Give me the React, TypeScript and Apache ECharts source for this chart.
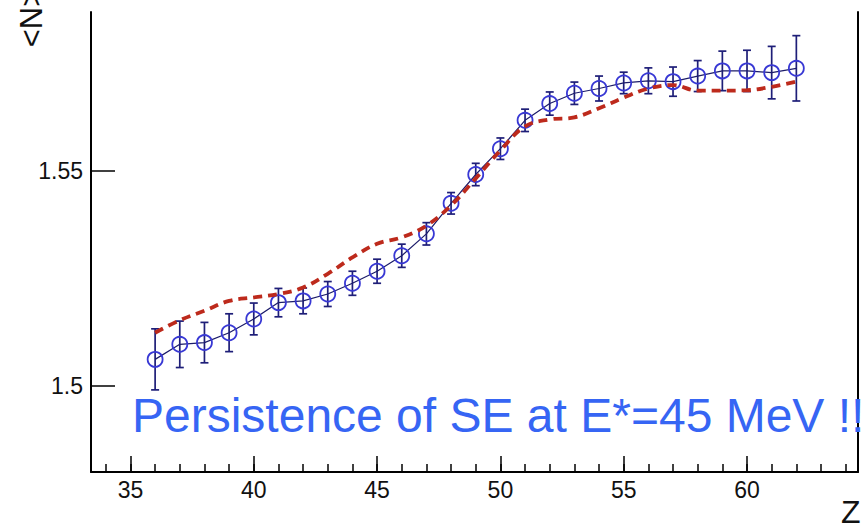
import React, { useEffect, useRef } from "react";
import * as echarts from "echarts";

// Charge number of the fragment
const Z = [36, 37, 38, 39, 40, 41, 42, 43, 44, 45, 46, 47, 48, 49, 50, 51, 52, 53, 54, 55, 56, 57, 58, 59, 60, 61, 62];

// Measured mean neutron-excess ratio <N>/Z with its uncertainty
const MEAN_N = [
  1.5062, 1.5097, 1.5101, 1.5124, 1.5156, 1.5194, 1.5198, 1.5214, 1.5239, 1.5267,
  1.5303, 1.5354, 1.5425, 1.5492, 1.5552, 1.5618, 1.5657, 1.5681, 1.5692, 1.5705,
  1.571, 1.5708, 1.5721, 1.5733, 1.5733, 1.5729, 1.5739,
];
const MEAN_N_ERR = [
  0.0071, 0.0054, 0.0047, 0.0044, 0.0037, 0.0033, 0.003, 0.0029, 0.0028, 0.0028,
  0.0027, 0.0026, 0.0025, 0.0026, 0.0025, 0.0026, 0.0027, 0.0026, 0.0029, 0.0025,
  0.003, 0.0034, 0.0036, 0.0046, 0.0048, 0.0061, 0.0076,
];

// Calculated curve
const MODEL_N = [
  1.5124, 1.5153, 1.5175, 1.5198, 1.5206, 1.5214, 1.5229, 1.5261, 1.5299, 1.5331,
  1.5346, 1.5373, 1.542, 1.5483, 1.5548, 1.5604, 1.562, 1.5625, 1.5646, 1.5671,
  1.5692, 1.57, 1.5687, 1.5687, 1.5688, 1.5696, 1.5708,
];

// Axis ticks
const Z_MAJOR = [35, 40, 45, 50, 55, 60];
const Z_MINOR = [34, 35, 36, 37, 38, 39, 40, 41, 42, 43, 44, 45, 46, 47, 48, 49, 50, 51, 52, 53, 54, 55, 56, 57, 58, 59, 60, 61, 62, 63, 64];
const N_MAJOR = [1.5, 1.55];

const Z_MIN = 33.4;
const Z_MAX = 64.5;
const N_MIN = 1.48;
const N_MAX = 1.587;

const FONT = "Liberation Sans, Arial, Helvetica, sans-serif";

export default function App() {
  const ref = useRef<HTMLDivElement>(null);

  useEffect(() => {
    if (!ref.current) return;
    const chart = echarts.init(ref.current, undefined, { renderer: "svg" });

    const points = Z.map((z, i) => [z, MEAN_N[i]]);
    const errs = Z.map((z, i) => [z, MEAN_N[i], MEAN_N_ERR[i]]);
    const model = Z.map((z, i) => [z, MODEL_N[i]]);

    const barColor = "#1e1e78";

    chart.setOption({
      animation: false,
      backgroundColor: "#ffffff",
      grid: {
        left: 91,
        right: 5,
        top: 12,
        bottom: 52,
        containLabel: false,
        outerBoundsMode: "none",
      },
      xAxis: [
        {
          type: "value",
          min: Z_MIN,
          max: Z_MAX,
          position: "bottom",
          axisLine: { show: true, lineStyle: { color: "#000", width: 2 } },
          axisTick: {
            show: true,
            inside: true,
            length: 16,
            customValues: Z_MAJOR,
            lineStyle: { color: "#000", width: 1.5 },
          },
          axisLabel: {
            show: true,
            customValues: Z_MAJOR,
            margin: 6,
            color: "#111",
            fontSize: 23,
            fontFamily: FONT,
          },
          splitLine: { show: false },
        },
        {
          type: "value",
          min: Z_MIN,
          max: Z_MAX,
          position: "bottom",
          axisLine: { show: false },
          axisTick: {
            show: true,
            inside: true,
            length: 8,
            customValues: Z_MINOR,
            lineStyle: { color: "#000", width: 1.5 },
          },
          axisLabel: { show: false },
          splitLine: { show: false },
        },
      ],
      yAxis: [
        {
          type: "value",
          min: N_MIN,
          max: N_MAX,
          position: "left",
          axisLine: { show: true, lineStyle: { color: "#000", width: 2 } },
          axisTick: {
            show: true,
            inside: true,
            length: 24,
            customValues: N_MAJOR,
            lineStyle: { color: "#000", width: 1.5 },
          },
          axisLabel: {
            show: true,
            customValues: N_MAJOR,
            margin: 8,
            color: "#111",
            fontSize: 23,
            fontFamily: FONT,
          },
          splitLine: { show: false },
        },
        {
          type: "value",
          min: N_MIN,
          max: N_MAX,
          position: "right",
          axisLine: { show: true, lineStyle: { color: "#000", width: 2 } },
          axisTick: { show: false },
          axisLabel: { show: false },
          splitLine: { show: false },
        },
      ],
      series: [
        {
          type: "custom",
          xAxisIndex: 0,
          yAxisIndex: 0,
          data: errs,
          z: 3,
          renderItem: (params: any, api: any) => {
            const z = api.value(0);
            const y = api.value(1);
            const e = api.value(2);
            const top = api.coord([z, y + e]);
            const bot = api.coord([z, y - e]);
            const cap = 4;
            const style = { stroke: barColor, lineWidth: 1.7 };
            return {
              type: "group",
              children: [
                { type: "line", shape: { x1: top[0], y1: top[1], x2: bot[0], y2: bot[1] }, style },
                { type: "line", shape: { x1: top[0] - cap, y1: top[1], x2: top[0] + cap, y2: top[1] }, style },
                { type: "line", shape: { x1: bot[0] - cap, y1: bot[1], x2: bot[0] + cap, y2: bot[1] }, style },
              ],
            };
          },
        },
        {
          type: "line",
          xAxisIndex: 0,
          yAxisIndex: 0,
          data: points,
          z: 4,
          symbol: "circle",
          symbolSize: 15,
          showSymbol: true,
          lineStyle: { color: "#1c1c6a", width: 1.2 },
          itemStyle: { color: "rgba(0,0,0,0)", borderColor: "#3838d4", borderWidth: 1.8 },
        },
        {
          type: "line",
          xAxisIndex: 0,
          yAxisIndex: 0,
          data: model,
          z: 5,
          smooth: 0.4,
          symbol: "none",
          lineStyle: { color: "#bd2a1c", width: 3.8, type: [9, 6] },
        },
      ],
      graphic: [
        {
          type: "text",
          x: 31,
          y: 18,
          rotation: Math.PI / 2,
          style: {
            text: "<N>",
            fill: "#111",
            fontSize: 31,
            fontFamily: FONT,
            align: "center",
            verticalAlign: "middle",
          },
        },
        {
          type: "text",
          left: 841,
          top: 496,
          style: {
            text: "Z",
            fill: "#111",
            fontSize: 32,
            fontFamily: FONT,
          },
        },
        {
          type: "text",
          x: 132,
          y: 415,
          z: 10,
          style: {
            text: "Persistence of SE at E*=45 MeV !!",
            fill: "#3665f4",
            fontSize: 48,
            fontFamily: FONT,
            align: "left",
            verticalAlign: "middle",
          },
        },
      ],
    });

    return () => {
      chart.dispose();
    };
  }, []);

  return (
    <div
      ref={ref}
      style={{ position: "fixed", left: 0, top: 0, width: 863, height: 524, background: "#fff" }}
    />
  );
}
